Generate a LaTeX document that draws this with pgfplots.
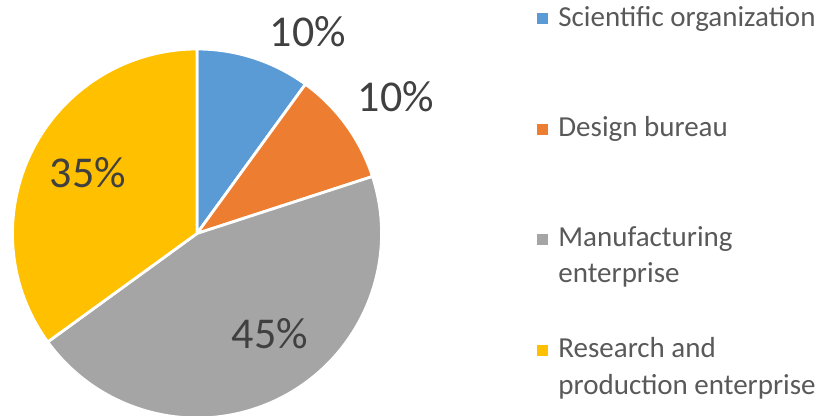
\documentclass[border=0pt]{standalone}
\usepackage{pgfplots}
\usepackage{pgfplotstable}
\pgfplotsset{compat=1.18}
\usepackage{fontspec}
\setmainfont{Carlito}
\definecolor{cBlue}{HTML}{5B9BD5}
\definecolor{cOrange}{HTML}{ED7D31}
\definecolor{cGray}{HTML}{A5A5A5}
\definecolor{cYellow}{HTML}{FFC000}
\definecolor{lblText}{HTML}{404040}
\definecolor{legText}{HTML}{595959}
\pgfplotstableread{
label value
Scientific 10
Design 10
Manufacturing 45
Research 35
}\piedata
\begin{document}
\begin{tikzpicture}
\path[use as bounding box] (0,0) rectangle (413pt,208pt);
% cumulative angles from the data
\def\cum{0}
\pgfplotsforeachungrouped \i in {0,...,3}{%
  \pgfplotstablegetelem{\i}{value}\of\piedata
  \pgfmathsetmacro\a{90-3.6*\cum}%
  \pgfmathsetmacro\cum{\cum+\pgfplotsretval}%
  \pgfmathsetmacro\b{90-3.6*\cum}%
  \expandafter\xdef\csname sA\i\endcsname{\a}%
  \expandafter\xdef\csname sB\i\endcsname{\b}%
}
\newcommand\slice[2]{%
  \fill[#2,draw=white,line width=1.4pt,line join=round]
    (axis cs:197,182.5) -- ++(\csname sA#1\endcsname:92.25pt)
    arc[start angle=\csname sA#1\endcsname, end angle=\csname sB#1\endcsname, radius=92.25pt] -- cycle;}
\begin{axis}[
  at={(0pt,0pt)}, anchor=south west,
  scale only axis, width=413pt, height=208pt,
  xmin=0, xmax=826, ymin=0, ymax=416,
  hide axis, clip=false]
\slice{0}{cBlue}
\slice{1}{cOrange}
\slice{2}{cGray}
\slice{3}{cYellow}
% data labels
\begin{scope}[every node/.style={anchor=base, inner sep=0pt, text=lblText, font=\fontsize{22}{26}\selectfont}]
\node at (axis cs:308,416-47) {10\%};
\node at (axis cs:396,416-112) {10\%};
\node at (axis cs:88,416-188) {35\%};
\node at (axis cs:270,416-349) {45\%};
\end{scope}
% legend
\begin{scope}[every node/.style={anchor=base west, inner sep=0pt, text=legText, font=\fontsize{14.5}{17.5}\selectfont}]
\fill[cBlue] (axis cs:537,416-24) rectangle (axis cs:548,416-13);
\node at (axis cs:558,416-27) {Scientific organization};
\fill[cOrange] (axis cs:537,416-135) rectangle (axis cs:548,416-124);
\node at (axis cs:558,416-137) {Design bureau};
\fill[cGray] (axis cs:537,416-245) rectangle (axis cs:548,416-234);
\node at (axis cs:558,416-247) {Manufacturing};
\node at (axis cs:558,416-283) {enterprise};
\fill[cYellow] (axis cs:537,416-356) rectangle (axis cs:548,416-345);
\node at (axis cs:558,416-358) {Research and};
\node at (axis cs:558,416-395) {production enterprise};
\end{scope}
\end{axis}
\end{tikzpicture}
\end{document}
